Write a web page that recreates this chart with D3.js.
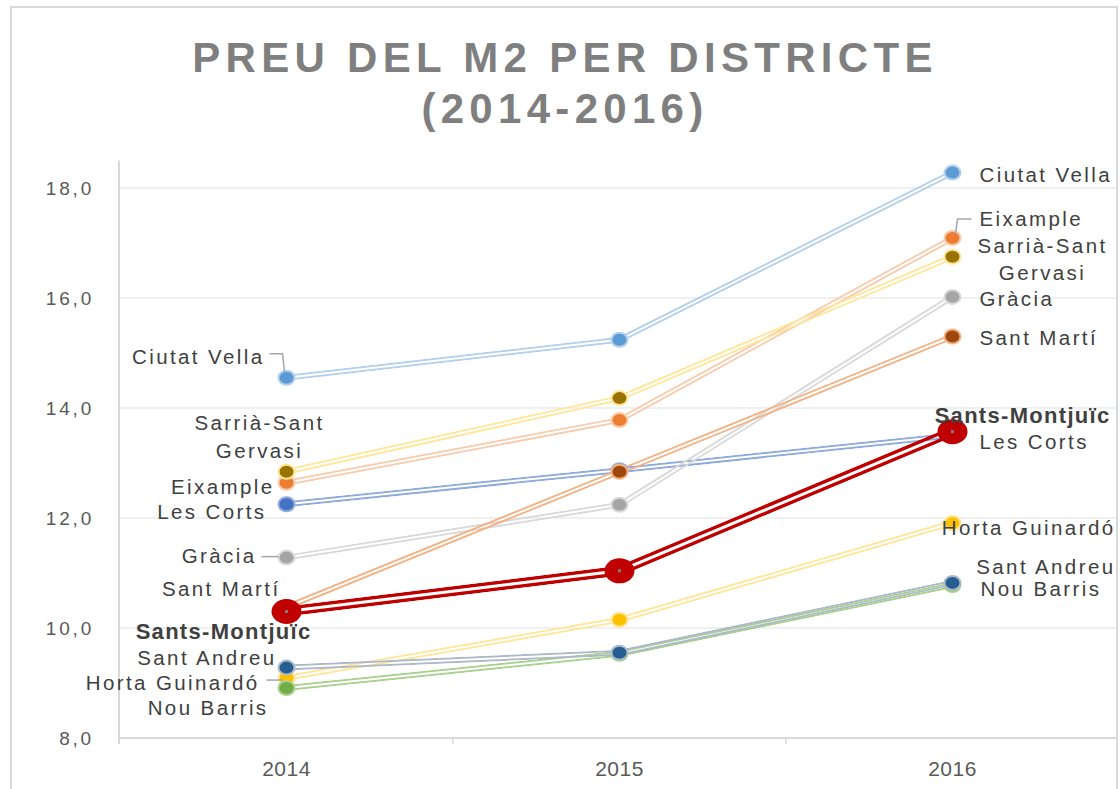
<!DOCTYPE html>
<html>
<head>
<meta charset="utf-8">
<script src="https://cdn.jsdelivr.net/npm/d3@7"></script>
<style>
  body { margin: 0; background: #fff; }
  svg { display: block; }
</style>
</head>
<body>
<svg id="chart"></svg>
<script>
// data (price per m2, 2014-2016)
const years = ["2014", "2015", "2016"];
const yTicks = [8, 10, 12, 14, 16, 18];
const titleLines = ["PREU DEL M2 PER DISTRICTE", "(2014-2016)"];

const ciutatVella = [14.55, 15.24, 18.28];
const eixample = [12.64, 13.78, 17.09];
const sarria = [12.84, 14.18, 16.75];
const lesCorts = [12.25, 12.87, 13.50];
const gracia = [11.28, 12.24, 16.02];
const santMarti = [10.38, 12.84, 15.30];
const santsMontjuic = [10.30, 11.04, 13.57];
const hortaGuinardo = [9.09, 10.15, 11.91];
const santAndreu = [9.28, 9.55, 10.82];
const nouBarris = [8.91, 9.53, 10.78];

const series = [
  { name: "Ciutat Vella", values: ciutatVella, line: "#b4d0ec", dot: "#5b9bd5" },
  { name: "Eixample", values: eixample, line: "#f8cbad", dot: "#ed7d31" },
  { name: "Sarrià-Sant Gervasi", values: sarria, line: "#ffe699", dot: "#997300" },
  { name: "Les Corts", values: lesCorts, line: "#8faadc", dot: "#4472c4" },
  { name: "Gràcia", values: gracia, line: "#d9d9d9", dot: "#a5a5a5" },
  { name: "Sant Martí", values: santMarti, line: "#f4b183", dot: "#9e480e" },
  { name: "Horta Guinardó", values: hortaGuinardo, line: "#ffe699", dot: "#ffc000" },
  { name: "Nou Barris", values: nouBarris, line: "#a9d18e", dot: "#70ad47" },
  { name: "Sant Andreu", values: santAndreu, line: "#adb9ca", dot: "#255e91" },
  { name: "Sants-Montjuïc", values: santsMontjuic, line: "#c00000", dot: "#c00000", big: true }
];

// label placement relative to the first / last point
// lines: text rows, dx/dy offsets of each row centre, anchor
const leftLabels = {
  "Ciutat Vella": { lines: ["Ciutat Vella"], dx: -22, dy: [-21], anchor: "end", leader: [[-17, -24], [-4, -24], [-2, -6]] },
  "Sarrià-Sant Gervasi": { lines: ["Sarrià-Sant", "Gervasi"], dx: -27, dy: [-49, -21], anchor: "middle" },
  "Eixample": { lines: ["Eixample"], dx: -12, dy: [4], anchor: "end" },
  "Les Corts": { lines: ["Les Corts"], dx: -20, dy: [8], anchor: "end" },
  "Gràcia": { lines: ["Gràcia"], dx: -30, dy: [-2], anchor: "end", leader: [[-25, -1], [-8, -1]] },
  "Sant Martí": { lines: ["Sant Martí"], dx: -6, dy: [-18], anchor: "end" },
  "Sants-Montjuïc": { lines: ["Sants-Montjuïc"], dx: 25, dy: [20], anchor: "end" },
  "Sant Andreu": { lines: ["Sant Andreu"], dx: -10, dy: [-10], anchor: "end" },
  "Horta Guinardó": { lines: ["Horta Guinardó"], dx: -27, dy: [5], anchor: "end", leader: [[-20, 2], [-4, 2]] },
  "Nou Barris": { lines: ["Nou Barris"], dx: -18, dy: [20], anchor: "end" }
};
const rightLabels = {
  "Ciutat Vella": { lines: ["Ciutat Vella"], dx: 27, dy: [2], anchor: "start" },
  "Eixample": { lines: ["Eixample"], dx: 27, dy: [-19], anchor: "start", leader: [[19, -19], [5, -19], [3, -4]] },
  "Sarrià-Sant Gervasi": { lines: ["Sarrià-Sant", "Gervasi"], dx: 90, dy: [-11, 16], anchor: "middle" },
  "Gràcia": { lines: ["Gràcia"], dx: 27, dy: [2], anchor: "start" },
  "Sant Martí": { lines: ["Sant Martí"], dx: 27, dy: [1], anchor: "start" },
  "Sants-Montjuïc": { lines: ["Sants-Montjuïc"], dx: 158, dy: [-16], anchor: "end" },
  "Les Corts": { lines: ["Les Corts"], dx: 27, dy: [6], anchor: "start" },
  "Horta Guinardó": { lines: ["Horta Guinardó"], dx: 163, dy: [5], anchor: "end" },
  "Sant Andreu": { lines: ["Sant Andreu"], dx: 163, dy: [-16], anchor: "end" },
  "Nou Barris": { lines: ["Nou Barris"], dx: 28, dy: [4], anchor: "start" }
};

const width = 1120, height = 789;
const svg = d3.select("#chart").attr("width", width).attr("height", height);

// outer chart frame
svg.append("rect")
  .attr("x", 11).attr("y", 7).attr("width", 1106).attr("height", 800)
  .attr("fill", "#fff").attr("stroke", "#d9d9d9").attr("stroke-width", 2);

// title
svg.append("g").selectAll("text")
  .data(titleLines)
  .join("text")
    .attr("x", 565)
    .attr("y", (d, i) => 72 + i * 51)
    .attr("text-anchor", "middle")
    .attr("font-family", "'Liberation Sans', Arial, sans-serif")
    .attr("font-weight", "bold")
    .attr("font-size", 42)
    .attr("letter-spacing", 5.3)
    .attr("fill", "#7f7f7f")
    .text(d => d);

const x = d3.scaleBand().domain(years).range([120, 1119]);
const y = d3.scaleLinear().domain([8, 18]).range([738, 188]);
const px = (i) => x(years[i]) + x.bandwidth() / 2;

// gridlines
svg.append("g").selectAll("line")
  .data(yTicks.slice(1))
  .join("line")
    .attr("x1", 120).attr("x2", 1116)
    .attr("y1", d => y(d)).attr("y2", d => y(d))
    .attr("stroke", "#ebebeb").attr("stroke-width", 1.5);

// y axis
const yAxis = d3.axisLeft(y).tickValues(yTicks).tickSize(0).tickPadding(25)
  .tickFormat(d => d3.format(".1f")(d).replace(".", ","));
const gy = svg.append("g").attr("transform", "translate(119,0)").call(yAxis);
gy.select(".domain").remove();
gy.append("line").attr("x1", 0).attr("x2", 0).attr("y1", y(18.5)).attr("y2", y(8) + 6)
  .attr("stroke", "#d9d9d9").attr("stroke-width", 2);
gy.selectAll(".tick text")
  .attr("font-family", "'Liberation Sans', Arial, sans-serif")
  .attr("font-size", 19).attr("letter-spacing", 2.8).attr("fill", "#595959");

// x axis
const xAxis = d3.axisBottom(x).tickSize(0).tickPadding(23);
const gx = svg.append("g").attr("transform", `translate(0,${y(8)})`).call(xAxis);
gx.select(".domain").remove();
gx.append("line").attr("x1", 119).attr("x2", 1116).attr("y1", 0).attr("y2", 0)
  .attr("stroke", "#d9d9d9").attr("stroke-width", 2);
gx.selectAll(".boundary")
  .data(years.slice(1))
  .join("line")
    .attr("x1", d => x(d)).attr("x2", d => x(d))
    .attr("y1", 0).attr("y2", 6)
    .attr("stroke", "#d9d9d9").attr("stroke-width", 1.5);
gx.selectAll(".tick text")
  .attr("font-family", "'Liberation Sans', Arial, sans-serif")
  .attr("font-size", 21).attr("letter-spacing", 0.5).attr("fill", "#595959");

// double (compound) lines: wide stroke with a transparent centre via a mask
const line = d3.line().x((d, i) => px(i)).y(d => y(d));
const defs = svg.append("defs");
const linesG = svg.append("g");
series.forEach((s, k) => {
  const w = s.big ? 10 : 6;
  const gap = s.big ? 3 : 2;
  const m = defs.append("mask").attr("id", "m" + k)
    .attr("maskUnits", "userSpaceOnUse")
    .attr("x", 0).attr("y", 0).attr("width", width).attr("height", height);
  m.append("path").attr("d", line(s.values)).attr("fill", "none")
    .attr("stroke", "#fff").attr("stroke-width", w).attr("stroke-linejoin", "round");
  m.append("path").attr("d", line(s.values)).attr("fill", "none")
    .attr("stroke", "#000").attr("stroke-width", gap).attr("stroke-linejoin", "round");
  linesG.append("path")
    .attr("d", line(s.values))
    .attr("fill", "none")
    .attr("stroke", s.line)
    .attr("stroke-width", w)
    .attr("stroke-linejoin", "round")
    .attr("mask", `url(#m${k})`);
});

// markers
const dotsG = svg.append("g");
series.forEach(s => {
  dotsG.selectAll(null)
    .data(s.values)
    .join("ellipse")
      .attr("cx", (d, i) => px(i))
      .attr("cy", d => y(d))
      .attr("rx", s.big ? 15 : 8)
      .attr("ry", s.big ? 12.5 : 7)
      .attr("fill", s.dot)
      .attr("stroke", s.line)
      .attr("stroke-width", s.big ? 0 : 2);
  if (s.big) {
    dotsG.selectAll(null)
      .data(s.values)
      .join("rect")
        .attr("x", (d, i) => px(i) - 1.5)
        .attr("y", d => y(d) - 1.5)
        .attr("width", 3).attr("height", 3)
        .attr("fill", "#7f7f7f");
  }
});

// data labels
const labelsG = svg.append("g");
function drawLabel(s, idx, cfg) {
  const cx = px(idx), cy = y(s.values[idx]);
  if (cfg.leader) {
    labelsG.append("polyline")
      .attr("points", cfg.leader.map(p => [cx + p[0], cy + p[1]].join(",")).join(" "))
      .attr("fill", "none").attr("stroke", "#a6a6a6").attr("stroke-width", 1.5);
  }
  cfg.lines.forEach((t, r) => {
    labelsG.append("text")
      .attr("x", cx + cfg.dx)
      .attr("y", cy + cfg.dy[r])
      .attr("dy", "0.35em")
      .attr("text-anchor", cfg.anchor)
      .attr("font-family", "'Liberation Sans', Arial, sans-serif")
      .attr("font-size", s.big ? 22 : 20.5)
      .attr("font-weight", s.big ? "bold" : "normal")
      .attr("letter-spacing", s.big ? 1.3 : 2.4)
      .attr("fill", "#404040")
      .text(t);
  });
}
series.forEach(s => {
  drawLabel(s, 0, leftLabels[s.name]);
  drawLabel(s, years.length - 1, rightLabels[s.name]);
});
</script>
</body>
</html>
